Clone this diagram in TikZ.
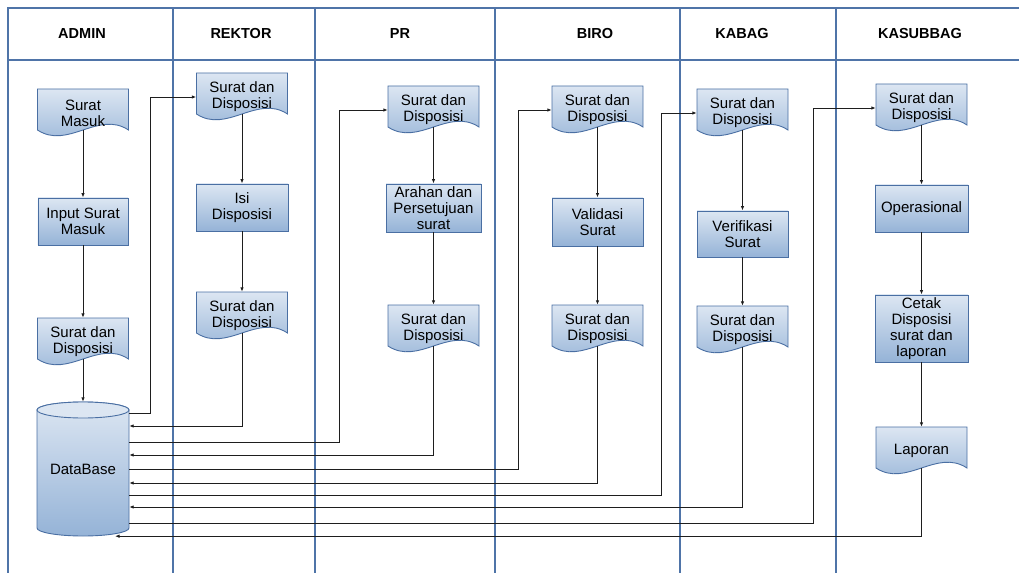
\documentclass[tikz,border=0pt]{standalone}
\usepackage{fontspec}
\setmainfont{Liberation Sans}
\usetikzlibrary{arrows.meta}
\definecolor{lanecol}{HTML}{4F74A8}
\definecolor{edgecol}{HTML}{4A6FA3}
\definecolor{ftop}{HTML}{DCE6F2}
\definecolor{fbot}{HTML}{95B3D7}
\definecolor{wirecol}{HTML}{1E1E1E}
\tikzset{
  lane/.style={draw=lanecol, line width=1.3bp},
  head/.style={font=\bfseries\fontsize{14.5bp}{16bp}\selectfont, inner sep=0},
  shapetext/.style={font=\fontsize{15bp}{16bp}\selectfont, align=center, inner sep=0},
  procbox/.style 2 args={shapetext, draw=edgecol, line width=0.9bp, top color=ftop, bottom color=fbot, minimum width=#1bp, minimum height=#2bp},
  docfill/.style={draw=edgecol, line width=0.9bp, top color=ftop, bottom color=fbot},
  docbox/.style={shapetext, minimum width=91bp, minimum height=48bp},
  wire/.style={draw=wirecol, line width=0.9bp},
  arr/.style={wire, -{Latex[length=4.5bp,width=3.5bp]}},
}
\newcommand\docnode[4]{%
  \path[docfill] (#2-45.5,#3) -- (#2+45.5,#3) -- (#2+45.5,#3+41)
    .. controls (#2+15.2,#3+21) and (#2-15.2,#3+61) .. (#2-45.5,#3+41) -- cycle;
  \node[docbox] (#1) at (#2,#3+24) {#4};
  \coordinate (#1-b) at (#2,#3+41);}
\begin{document}
\begin{tikzpicture}[x=1bp,y=-1bp]
\useasboundingbox (0,0) rectangle (1019,573);
% lanes
\draw[lane] (1019,8) -- (8,8) -- (8,573);
\draw[lane] (8,60) -- (1019,60);
\foreach \xx in {173,315,495,680,836} \draw[lane] (\xx,8) -- (\xx,573);
% headers
\node[head] (hadmin) at (82,33.5) {ADMIN};
\node[head] (hrektor) at (241,33.5) {REKTOR};
\node[head] (hpr) at (400,33.5) {PR};
\node[head] (hbiro) at (595,33.5) {BIRO};
\node[head] (hkabag) at (742,33.5) {KABAG};
\node[head] (hkasub) at (920,33.5) {KASUBBAG};
% ADMIN
\docnode{sm}{83}{89}{Surat\\Masuk}
\node[procbox={90}{47}] (ism) at (83,221.5) {Input Surat\\Masuk};
\docnode{ad}{83}{318}{Surat dan\\Disposisi}
\path[docfill] (37,410) -- (37,528) arc[start angle=180,end angle=0,x radius=46,y radius=8]
  -- (129,410) arc[start angle=0,end angle=-180,x radius=46,y radius=8] -- cycle;
\draw[draw=edgecol, line width=0.9bp, fill=ftop] (83,410) ellipse[x radius=46,y radius=8];
\node[shapetext, minimum width=92bp, minimum height=134bp] (db) at (83,469) {DataBase};
% REKTOR
\docnode{r1}{242}{73}{Surat dan\\Disposisi}
\node[procbox={92}{47}] (isi) at (242,207.5) {Isi\\Disposisi};
\docnode{r2}{242}{292}{Surat dan\\Disposisi}
% PR
\docnode{p1}{433.5}{86}{Surat dan\\Disposisi}
\node[procbox={95}{48}] (ar) at (433.5,208) {Arahan dan\\Persetujuan\\surat};
\docnode{p2}{433.5}{305}{Surat dan\\Disposisi}
% BIRO
\docnode{b1}{597.5}{86}{Surat dan\\Disposisi}
\node[procbox={91}{48}] (val) at (597.5,222) {Validasi\\Surat};
\docnode{b2}{597.5}{305}{Surat dan\\Disposisi}
% KABAG
\docnode{k1}{742.5}{89}{Surat dan\\Disposisi}
\node[procbox={91}{46}] (ver) at (742.5,234) {Verifikasi\\Surat};
\docnode{k2}{742.5}{306}{Surat dan\\Disposisi}
% KASUBBAG
\docnode{s1}{921.5}{84}{Surat dan\\Disposisi}
\node[procbox={93}{47}] (op) at (921.5,208.5) {Operasional};
\node[procbox={93}{67}] (ct) at (921.5,328.5) {Cetak\\Disposisi\\surat dan\\laporan};
\docnode{lap}{921.5}{427}{Laporan}
% connectors
\draw[arr] (sm-b) -- (ism.north);
\draw[arr] (ism.south) -- (ad.north);
\draw[arr] (ad-b) -- (db.north);
\draw[arr] (db.east |- 0,413) -- (150,413) |- (r1.west);
\draw[arr] (r1-b) -- (isi.north);
\draw[arr] (isi.south) -- (r2.north);
\draw[arr] (r2-b) |- (db.east |- 0,426);
\draw[arr] (db.east |- 0,442) -- (339,442) |- (p1.west);
\draw[arr] (p1-b) -- (ar.north);
\draw[arr] (ar.south) -- (p2.north);
\draw[arr] (p2-b) |- (db.east |- 0,455);
\draw[arr] (db.east |- 0,469) -- (518.5,469) |- (b1.west);
\draw[arr] (b1-b) -- (val.north);
\draw[arr] (val.south) -- (b2.north);
\draw[arr] (b2-b) |- (db.east |- 0,483);
\draw[arr] (db.east |- 0,495) -- (661,495) |- (k1.west);
\draw[arr] (k1-b) -- (ver.north);
\draw[arr] (ver.south) -- (k2.north);
\draw[arr] (k2-b) |- (db.east |- 0,507);
\draw[arr] (db.east |- 0,523.5) -- (813,523.5) |- (s1.west);
\draw[arr] (s1-b) -- (op.north);
\draw[arr] (op.south) -- (ct.north);
\draw[arr] (ct.south) -- (lap.north);
\draw[arr] (lap-b) |- ([xshift=32bp]db.south);
\end{tikzpicture}
\end{document}
